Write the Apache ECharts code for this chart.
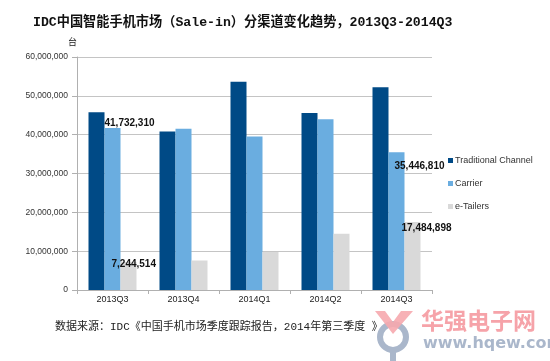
<!DOCTYPE html>
<html><head><meta charset="utf-8">
<script src="https://cdn.jsdelivr.net/npm/echarts@6/dist/echarts.min.js"></script>
<style>html,body{margin:0;padding:0;background:#fff}#c{width:550px;height:361px}</style>
</head><body><div id="c"></div>
<script>
const categories = ['2013Q3','2013Q4','2014Q1','2014Q2','2014Q3'];
const traditional = [45800000, 40800000, 53600000, 45600000, 52200000];
const carrier = [41732310, 41500000, 39500000, 44000000, 35446810];
const etailers = [7244514, 7600000, 9800000, 14500000, 17484898];
const seriesNames = ['Traditional Channel','Carrier','e-Tailers'];
const yTicks = [0, 10000000, 20000000, 30000000, 40000000, 50000000, 60000000];

const fmt = v => String(v).replace(/\B(?=(\d{3})+(?!\d))/g, ',');
const chart = echarts.init(document.getElementById('c'), null, {renderer:'canvas'});

function withLabels(vals, labelMap){
  return vals.map((v,i)=>{
    if(labelMap[i]){
      return {value:v, label:{show:true, position:labelMap[i], align:'left', verticalAlign:'middle',
        formatter: fmt(v), fontSize:10, fontWeight:'bold', color:'#111', fontFamily:'Liberation Sans, Arial, sans-serif'}};
    }
    return v;
  });
}

const cjk = '"Liberation Mono", "Noto Sans CJK SC", monospace';
chart.setOption({
  animation:false,
  backgroundColor:'#fff',
  title:{text:'IDC中国智能手机市场（Sale-in）分渠道变化趋势，2013Q3-2014Q3', left:28, top:11,
    textStyle:{fontSize:13.2, fontWeight:'bold', color:'#111', fontFamily:cjk}},
  legend:{orient:'vertical', left:448, top:156, itemWidth:5, itemHeight:5, itemGap:14, padding:0,
    icon:'rect', data:seriesNames,
    textStyle:{fontSize:9, color:'#333', fontFamily:'Liberation Sans, Arial, sans-serif', padding:[0,0,0,-3]}},
  grid:{left:77, right:118, top:57, bottom:71, containLabel:false},
  xAxis:{type:'category', data:categories,
    axisLine:{lineStyle:{color:'#b0b0b0'}},
    axisTick:{show:true, length:4, lineStyle:{color:'#b0b0b0'}},
    axisLabel:{fontSize:9, color:'#222', margin:5, fontFamily:'Liberation Sans, Arial, sans-serif'}},
  yAxis:{type:'value', min:yTicks[0], max:yTicks[yTicks.length-1], interval:yTicks[1]-yTicks[0],
    axisLine:{show:true, lineStyle:{color:'#b0b0b0'}},
    axisTick:{show:true, length:5, lineStyle:{color:'#b0b0b0'}},
    splitLine:{lineStyle:{color:'#c4c4c4'}},
    axisLabel:{fontSize:8.5, color:'#333', margin:9, formatter:v=>fmt(v), fontFamily:'Liberation Sans, Arial, sans-serif'}},
  series:[
    {name:seriesNames[0], type:'bar', barWidth:16, barGap:'0%', data:traditional, itemStyle:{color:'#004a86'}},
    {name:seriesNames[1], type:'bar', barWidth:16, barGap:'0%', data:withLabels(carrier,{0:[0,-5],4:[6,14]}), itemStyle:{color:'#6aade0'}},
    {name:seriesNames[2], type:'bar', barWidth:16, barGap:'0%', data:withLabels(etailers,{0:[-9,2],4:[-3,6]}), itemStyle:{color:'#d9d9d9'}}
  ],
  graphic:[
    {type:'text', left:68, top:37, style:{text:'台', fontSize:9, fill:'#222', fontFamily:'"Noto Sans CJK SC"'}},
    {type:'text', left:55, top:322, style:{text:'数据来源：IDC《中国手机市场季度跟踪报告，2014年第三季度 》', fontSize:11, fill:'#222', fontFamily:cjk}},
    {type:'circle', shape:{cx:393, cy:337, r:13}, style:{fill:'none', stroke:'#aab7cb', lineWidth:6}, z:-1},
    {type:'rect', shape:{x:390, y:349, width:6, height:12}, style:{fill:'#aab7cb'}, z:-1},
    {type:'polygon', shape:{points:[[375,311],[385,311],[393,322],[401,311],[413,311],[393,334]]}, style:{fill:'#f6a9ae', opacity:0.9}, z:-1},
    {type:'text', left:421, top:309, style:{text:'华强电子网', fontSize:23, fontWeight:'bold', fill:'#f6a3a9', fontFamily:'"Noto Sans CJK SC"'}, z:-1},
    {type:'text', left:423, top:336, style:{text:'www.hqew.com', fontSize:16, fontWeight:'bold', fill:'#aab7cb', fontFamily:'"DejaVu Sans", sans-serif'}, z:-1}
  ]
});
</script></body></html>
